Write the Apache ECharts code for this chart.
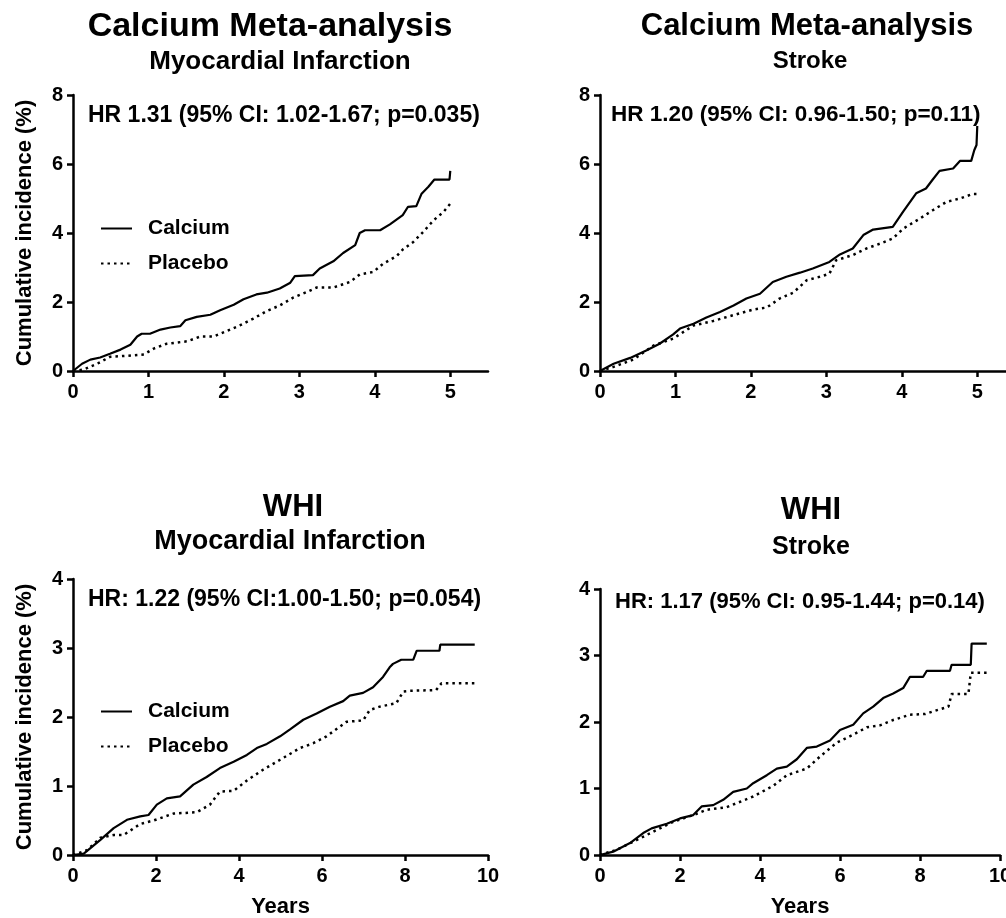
<!DOCTYPE html>
<html style="height: 100%">
<head>
<meta charset="utf-8">
<script src="https://cdn.jsdelivr.net/npm/echarts@6/dist/echarts.min.js"></script>
</head>
<body style="height: 100%; margin: 0; background: #fff">
<div id="container" style="width: 1006px; height: 918px"></div>
<script type="text/javascript">
// ---- data: [years, cumulative incidence %] ----
var metaMiCalcium = [[0,0],[0.12,0.21],[0.23,0.33],[0.36,0.39],[0.49,0.5],[0.63,0.62],[0.76,0.76],[0.85,1.0],[0.91,1.08],[1.02,1.08],[1.16,1.2],[1.29,1.26],[1.42,1.3],[1.49,1.47],[1.64,1.57],[1.82,1.63],[1.95,1.76],[2.13,1.92],[2.26,2.08],[2.43,2.22],[2.57,2.27],[2.74,2.39],[2.88,2.56],[2.94,2.75],[3.18,2.78],[3.27,2.97],[3.45,3.18],[3.58,3.42],[3.74,3.65],[3.8,4.0],[3.87,4.08],[4.07,4.08],[4.2,4.25],[4.37,4.52],[4.44,4.76],[4.55,4.78],[4.62,5.14],[4.71,5.34],[4.79,5.55],[4.99,5.55],[5.0,5.8]];
var metaMiPlacebo = [[0,0],[0.14,0.04],[0.32,0.21],[0.49,0.41],[0.71,0.44],[0.94,0.48],[1.07,0.65],[1.24,0.79],[1.51,0.86],[1.69,1.0],[1.86,1.0],[2.04,1.16],[2.21,1.32],[2.39,1.52],[2.57,1.74],[2.74,1.9],[2.92,2.13],[3.1,2.29],[3.23,2.42],[3.45,2.42],[3.67,2.58],[3.8,2.8],[3.98,2.87],[4.11,3.11],[4.29,3.33],[4.37,3.52],[4.51,3.74],[4.64,4.03],[4.78,4.37],[4.91,4.61],[5.0,4.85]];

var metaStrokeCalcium = [[0,0],[0.18,0.21],[0.4,0.38],[0.62,0.6],[0.79,0.79],[0.97,1.06],[1.06,1.23],[1.24,1.37],[1.41,1.55],[1.59,1.71],[1.77,1.9],[1.94,2.1],[2.12,2.24],[2.29,2.58],[2.47,2.73],[2.65,2.85],[2.82,2.97],[3.04,3.16],[3.18,3.38],[3.35,3.55],[3.49,3.94],[3.62,4.1],[3.88,4.18],[4.02,4.63],[4.19,5.15],[4.32,5.29],[4.41,5.55],[4.5,5.8],[4.68,5.87],[4.77,6.09],[4.92,6.09],[4.96,6.4],[4.99,6.55],[5.0,7.1]];
var metaStrokePlacebo = [[0,0],[0.18,0.12],[0.44,0.33],[0.71,0.74],[0.97,0.94],[1.24,1.32],[1.5,1.45],[1.77,1.62],[2.03,1.78],[2.21,1.84],[2.38,2.1],[2.56,2.27],[2.74,2.63],[2.91,2.73],[3.04,2.82],[3.13,3.21],[3.35,3.36],[3.53,3.55],[3.71,3.69],[3.88,3.84],[4.02,4.13],[4.24,4.42],[4.41,4.66],[4.59,4.9],[4.77,5.0],[4.94,5.13],[4.99,5.13]];

var whiMiCalcium = [[0,0],[0.26,0.02],[0.66,0.22],[0.98,0.39],[1.3,0.51],[1.62,0.56],[1.82,0.58],[2.02,0.73],[2.26,0.82],[2.58,0.85],[2.9,1.02],[3.22,1.13],[3.54,1.26],[3.87,1.35],[4.19,1.45],[4.43,1.55],[4.67,1.61],[4.99,1.72],[5.23,1.82],[5.55,1.96],[5.87,2.05],[6.19,2.15],[6.51,2.23],[6.67,2.31],[6.99,2.35],[7.23,2.43],[7.47,2.58],[7.63,2.72],[7.71,2.77],[7.91,2.83],[8.2,2.83],[8.28,2.96],[8.83,2.96],[8.85,3.05],[9.68,3.05]];
var whiMiPlacebo = [[0,0],[0.34,0.07],[0.66,0.25],[0.98,0.29],[1.22,0.29],[1.62,0.45],[1.94,0.5],[2.42,0.6],[2.98,0.62],[3.3,0.73],[3.54,0.92],[3.87,0.93],[4.19,1.08],[4.59,1.24],[4.99,1.38],[5.47,1.55],[5.79,1.62],[6.11,1.72],[6.43,1.86],[6.59,1.93],[6.99,1.95],[7.15,2.1],[7.39,2.15],[7.79,2.2],[7.96,2.37],[8.12,2.38],[8.75,2.39],[8.88,2.49],[9.72,2.49]];

var whiStrokeCalcium = [[0,0],[0.33,0.05],[0.75,0.18],[1.08,0.33],[1.29,0.4],[1.67,0.47],[2.0,0.55],[2.33,0.6],[2.54,0.73],[2.83,0.75],[3.08,0.83],[3.33,0.95],[3.67,1.0],[3.83,1.08],[4.17,1.2],[4.42,1.3],[4.67,1.33],[4.92,1.44],[5.17,1.61],[5.42,1.63],[5.75,1.72],[6.0,1.88],[6.33,1.96],[6.58,2.13],[6.83,2.23],[7.08,2.36],[7.33,2.43],[7.58,2.51],[7.75,2.68],[8.08,2.68],[8.17,2.77],[8.75,2.77],[8.79,2.86],[9.27,2.86],[9.29,3.18],[9.67,3.18]];
var whiStrokePlacebo = [[0,0],[0.42,0.08],[0.83,0.2],[1.33,0.35],[1.83,0.5],[2.33,0.6],[2.67,0.68],[3.17,0.72],[3.83,0.88],[4.33,1.04],[4.67,1.2],[5.17,1.3],[5.5,1.48],[5.92,1.69],[6.33,1.81],[6.67,1.92],[7.0,1.95],[7.33,2.03],[7.75,2.11],[8.13,2.12],[8.38,2.17],[8.71,2.23],[8.79,2.42],[9.21,2.42],[9.27,2.74],[9.75,2.74]];

var metaXTicks = [0, 1, 2, 3, 4, 5];
var whiXTicks = [0, 2, 4, 6, 8, 10];
var hrTexts = [
    'HR 1.31 (95% CI: 1.02-1.67; p=0.035)',
    'HR 1.20 (95% CI: 0.96-1.50; p=0.11)',
    'HR: 1.22 (95% CI:1.00-1.50; p=0.054)',
    'HR: 1.17 (95% CI: 0.95-1.44; p=0.14)'
];

var dom = document.getElementById("container");
var myChart = echarts.init(dom, null, {renderer: 'canvas'});
var FONT = "'Liberation Sans', Arial, sans-serif";
var option = null;

function xAxis(idx, max, interval, ticks, withName) {
    return {
        type: 'value', gridIndex: idx, min: 0, max: max, interval: interval,
        name: withName ? 'Years' : '', nameLocation: 'middle', nameGap: 41,
        nameTextStyle: {fontSize: 22, fontWeight: 'bold', color: '#000'},
        axisLine: {onZero: false, lineStyle: {color: '#000', width: 2.5}},
        axisTick: {length: 6, lineStyle: {color: '#000', width: 2.5}, customValues: ticks},
        axisLabel: {fontSize: 20, fontWeight: 'bold', color: '#000', margin: 11, customValues: ticks},
        splitLine: {show: false}
    };
}

function yAxis(idx, max, interval, withName) {
    return {
        type: 'value', gridIndex: idx, min: 0, max: max, interval: interval,
        name: withName ? 'Cumulative incidence (%)' : '', nameLocation: 'middle', nameGap: 37,
        nameTextStyle: {fontSize: 22, fontWeight: 'bold', color: '#000'},
        axisLine: {show: true, onZero: false, lineStyle: {color: '#000', width: 2.5}},
        axisTick: {show: true, length: 6, lineStyle: {color: '#000', width: 2.5}},
        axisLabel: {fontSize: 20, fontWeight: 'bold', color: '#000', margin: 10},
        splitLine: {show: false}
    };
}

function curve(name, idx, data) {
    var dotted = name === 'Placebo';
    return {
        name: name, type: 'line', xAxisIndex: idx, yAxisIndex: idx,
        data: data, symbol: 'none', showSymbol: false, silent: true,
        lineStyle: dotted ? {color: '#000', width: 2.5, type: [2.5, 4]} : {color: '#000', width: 2.2},
        itemStyle: {color: '#000'}
    };
}

function legend(top) {
    return {
        orient: 'vertical', left: 95, top: top, itemWidth: 31, itemHeight: 20, itemGap: 14,
        selectedMode: false, data: ['Calcium', 'Placebo'],
        itemStyle: {opacity: 0},
        textStyle: {fontSize: 21, fontWeight: 'bold', color: '#000', fontFamily: FONT, padding: [0, 0, 0, 11]}
    };
}

function label(text, left, top, size, align) {
    return {
        text: text, left: left, top: top, textAlign: align || 'center', padding: 0,
        textStyle: {fontSize: size, fontWeight: 'bold', color: '#000', fontFamily: FONT}
    };
}

option = {
    animation: false,
    backgroundColor: '#fff',
    textStyle: {fontFamily: FONT},
    title: [
        label('Calcium Meta-analysis', 270, 10, 34),
        label('Myocardial Infarction', 280, 49, 26),
        label('Calcium Meta-analysis', 807, 11, 31),
        label('Stroke', 810, 49, 24),
        label('WHI', 293, 492, 31),
        label('Myocardial Infarction', 290, 528, 27),
        label('WHI', 811, 495, 31),
        label('Stroke', 811, 535, 25),
        label(hrTexts[0], 88, 104, 23, 'left'),
        label(hrTexts[1], 611, 103, 22.5, 'left'),
        label(hrTexts[2], 88, 588, 23, 'left'),
        label(hrTexts[3], 615, 591, 22, 'left')
    ],
    legend: [legend(213), legend(696)],
    grid: [
        {left: 73, top: 95, width: 415, height: 276, outerBoundsMode: 'none'},
        {left: 600, top: 95, width: 415, height: 276, outerBoundsMode: 'none'},
        {left: 73, top: 579, width: 415, height: 276, outerBoundsMode: 'none'},
        {left: 600, top: 589, width: 400, height: 266, outerBoundsMode: 'none'}
    ],
    xAxis: [
        xAxis(0, 5.5, 1, metaXTicks, false),
        xAxis(1, 5.5, 1, metaXTicks, false),
        xAxis(2, 10, 2, whiXTicks, true),
        xAxis(3, 10, 2, whiXTicks, true)
    ],
    yAxis: [
        yAxis(0, 8, 2, true),
        yAxis(1, 8, 2, false),
        yAxis(2, 4, 1, true),
        yAxis(3, 4, 1, false)
    ],
    series: [
        curve('Calcium', 0, metaMiCalcium),
        curve('Placebo', 0, metaMiPlacebo),
        curve('Calcium', 1, metaStrokeCalcium),
        curve('Placebo', 1, metaStrokePlacebo),
        curve('Calcium', 2, whiMiCalcium),
        curve('Placebo', 2, whiMiPlacebo),
        curve('Calcium', 3, whiStrokeCalcium),
        curve('Placebo', 3, whiStrokePlacebo)
    ]
};

if (option && typeof option === "object") {
    myChart.setOption(option, true);
}
</script>
</body>
</html>
